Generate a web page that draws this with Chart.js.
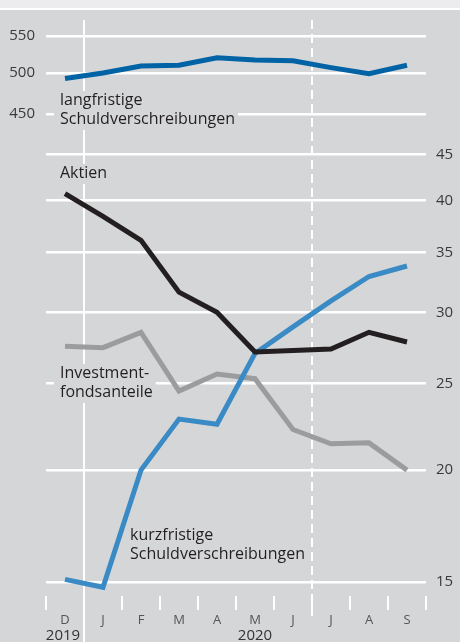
<!DOCTYPE html>
<html lang="de">
<head>
<meta charset="utf-8">
<style>
  html, body { margin: 0; padding: 0; background: #d5d6d8; }
  #wrap { width: 460px; height: 642px; }
</style>
<script src="https://cdn.jsdelivr.net/npm/chart.js@4/dist/chart.umd.min.js"></script>
</head>
<body>
<div id="wrap"><canvas id="chart" width="460" height="642"></canvas></div>
<script>
// Monate Dez 2019 bis Sep 2020
const months = ['D', 'J', 'F', 'M', 'A', 'M', 'J', 'J', 'A', 'S'];
const years = ['2019', '2020'];

// linke Skala (oben)
const langfristig = [493, 500, 509, 510, 520, 517, 516, 507, 499, 510];
// rechte Skala (unten)
const aktien = [40.7, 38.4, 36.1, 31.6, 30.0, 27.1, 27.2, 27.3, 28.5, 27.8];
const kurzfristig = [15.1, 14.8, 20.0, 22.8, 22.5, 27.0, 28.9, 30.9, 32.9, 33.8];
const fonds = [27.5, 27.4, 28.5, 24.5, 25.6, 25.3, 22.2, 21.4, 21.45, 20.0];

const leftTicks = [450, 500, 550];
const rightTicks = [15, 20, 25, 30, 35, 40, 45];

const BG = '#d5d6d8';
const FONT = "'Open Sans', 'Noto Sans', sans-serif";

const notes = [
    { lines: ['langfristige', 'Schuldverschreibungen'], x: 60, y: 100 },
    { lines: ['Aktien'], x: 60, y: 173 },
    { lines: ['Investment-', 'fondsanteile'], x: 60, y: 373 },
    { lines: ['kurzfristige', 'Schuldverschreibungen'], x: 130, y: 535 }
];

const decor = {
    id: 'decor',
    beforeDraw(chart) {
        const c = chart.ctx;
        c.save();
        c.fillStyle = '#ececee';
        c.fillRect(0, 0, chart.width, 8);
        c.fillStyle = '#ffffff';
        c.fillRect(0, 8, chart.width, 2);
        c.fillStyle = BG;
        c.fillRect(0, 10, chart.width, chart.height - 10);
        c.restore();
    },
    beforeDatasetsDraw(chart) {
        const c = chart.ctx;
        const a = chart.chartArea;
        const x = chart.scales.x;
        c.save();
        c.strokeStyle = '#ffffff';
        c.lineWidth = 2;

        // kleine Striche zwischen den Monaten
        for (let i = 0; i <= months.length; i++) {
            const px = x.getPixelForValue(i - 0.5);
            c.beginPath();
            c.moveTo(px, a.bottom);
            c.lineTo(px, a.bottom + 14);
            c.stroke();
        }
        // Jahreswechsel
        let px = x.getPixelForValue(0.5);
        c.beginPath();
        c.moveTo(px, a.top);
        c.lineTo(px, chart.height);
        c.stroke();
        // Halbjahr gestrichelt
        px = x.getPixelForValue(6.5);
        c.setLineDash([9, 5]);
        c.beginPath();
        c.moveTo(px, a.top);
        c.lineTo(px, a.bottom + 20);
        c.stroke();
        c.setLineDash([]);

        // Beschriftungen der Reihen
        c.font = '16px ' + FONT;
        c.textBaseline = 'middle';
        c.textAlign = 'left';
        const lh = 19;
        notes.forEach(n => {
            const w = Math.max(...n.lines.map(l => c.measureText(l).width));
            c.fillStyle = BG;
            c.fillRect(n.x - 6, n.y - 9, w + 9, (n.lines.length - 1) * lh + 20);
            c.fillStyle = '#231f20';
            n.lines.forEach((l, i) => c.fillText(l, n.x, n.y + i * lh));
        });

        // Jahre
        c.font = '15px ' + FONT;
        c.fillStyle = '#333333';
        c.textAlign = 'center';
        c.fillText(years[0], x.getPixelForValue(0) - 2, 636);
        c.fillText(years[1], (x.getPixelForValue(1) + x.getPixelForValue(9)) / 2, 636);
        c.restore();
    }
};

const gridOpts = { color: '#ffffff', lineWidth: 2.5, drawTicks: false };

new Chart(document.getElementById('chart'), {
    type: 'line',
    data: {
        labels: months,
        datasets: [
            { data: langfristig, yAxisID: 'yTop', borderColor: '#0063a6' },
            { data: aktien, yAxisID: 'yBot', borderColor: '#231f20' },
            { data: kurzfristig, yAxisID: 'yBot', borderColor: '#3a8bc5' },
            { data: fonds, yAxisID: 'yBot', borderColor: '#9b9c9e' }
        ]
    },
    options: {
        responsive: false,
        animation: false,
        layout: { padding: { top: 20, left: 0, right: 0, bottom: 0 } },
        elements: {
            line: { borderWidth: 5, tension: 0, fill: false },
            point: { radius: 0, hoverRadius: 0 }
        },
        plugins: { legend: { display: false }, tooltip: { enabled: false } },
        scales: {
            x: {
                type: 'category',
                offset: true,
                grid: { display: false },
                border: { display: false },
                ticks: { color: '#555555', font: { family: FONT, size: 13 }, padding: 8, maxRotation: 0, autoSkip: false },
                afterFit(s) { s.height = 46; s.paddingLeft = 0; s.paddingRight = 0; }
            },
            yTop: {
                type: 'logarithmic',
                position: 'left',
                min: 130.3,
                max: 573,
                grid: gridOpts,
                border: { display: false },
                ticks: { color: '#3a3a3a', font: { family: FONT, size: 15 }, padding: 11, callback: v => String(v) },
                afterBuildTicks(s) { s.ticks = leftTicks.map(v => ({ value: v })); },
                afterFit(s) { s.width = 46; s.paddingTop = 0; s.paddingBottom = 0; }
            },
            yBot: {
                type: 'logarithmic',
                position: 'right',
                min: 14.47,
                max: 63.61,
                grid: gridOpts,
                border: { display: false },
                ticks: { color: '#3a3a3a', font: { family: FONT, size: 15 }, padding: 10, callback: v => String(v) },
                afterBuildTicks(s) { s.ticks = rightTicks.map(v => ({ value: v })); },
                afterFit(s) { s.width = 34; s.paddingTop = 0; s.paddingBottom = 0; }
            }
        }
    },
    plugins: [decor]
});
</script>
</body>
</html>
